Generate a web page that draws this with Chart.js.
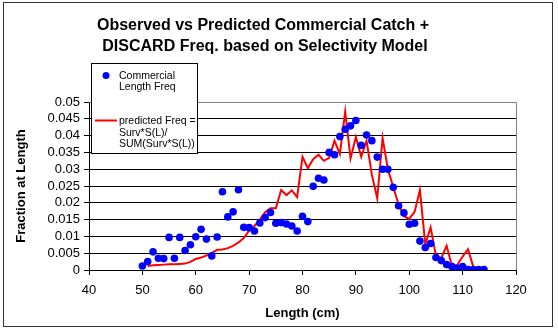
<!DOCTYPE html>
<html>
<head>
<meta charset="utf-8">
<script src="https://cdn.jsdelivr.net/npm/chart.js@4.4.1/dist/chart.umd.min.js"></script>
<style>
  html, body { margin: 0; padding: 0; background: #fff; }
  #wrap { width: 558px; height: 330px; }
</style>
</head>
<body>
<div id="wrap"><canvas id="catchChart" width="558" height="330"></canvas></div>
<script>
// observed commercial length frequency, 50..114 cm
const obsLength = [50, 51, 52, 53, 54, 55, 56, 57, 58, 59, 60, 61, 62, 63, 64, 65, 66, 67, 68, 69,
  70, 71, 72, 73, 74, 75, 76, 77, 78, 79, 80, 81, 82, 83, 84, 85, 86, 87, 88, 89,
  90, 91, 92, 93, 94, 95, 96, 97, 98, 99, 100, 101, 102, 103, 104, 105, 106, 107, 108, 109,
  110, 111, 112, 113, 114];
const obsFreq = [0.0012, 0.0025, 0.0054, 0.0035, 0.0034, 0.0097, 0.0035, 0.0097, 0.0058, 0.0075,
  0.0099, 0.0121, 0.0092, 0.0042, 0.0098, 0.0233, 0.0158, 0.0173, 0.0239, 0.0127,
  0.0126, 0.0116, 0.0140, 0.0156, 0.0171, 0.0139, 0.0141, 0.0137, 0.0131, 0.0116,
  0.0160, 0.0144, 0.0249, 0.0273, 0.0268, 0.0350, 0.0343, 0.0397, 0.0419, 0.0429,
  0.0445, 0.0371, 0.0402, 0.0385, 0.0336, 0.0300, 0.0300, 0.0246, 0.0191, 0.0170,
  0.0136, 0.0139, 0.0086, 0.0067, 0.0079, 0.0037, 0.0028, 0.0016, 0.0010, 0.0005,
  0.0010, 0.0001, 0.0001, 0.0001, 0.0001];

// predicted freq from selectivity model, 51..114 cm
const predLength = [51, 52, 53, 54, 55, 56, 57, 58, 59, 60, 61, 62, 63, 64, 65, 66, 67, 68, 69,
  70, 71, 72, 73, 74, 75, 76, 77, 78, 79, 80, 81, 82, 83, 84, 85, 86, 87, 88, 89,
  90, 91, 92, 93, 94, 95, 96, 97, 98, 99, 100, 101, 102, 103, 104, 105, 106, 107, 108, 109,
  110, 111, 112, 113, 114];
const predFreq = [0.0012, 0.0014, 0.0015, 0.0016, 0.0017, 0.0017, 0.0018, 0.0019, 0.0024,
  0.0033, 0.0037, 0.0043, 0.0050, 0.0060, 0.0061, 0.0065, 0.0072, 0.0082, 0.0095,
  0.0117, 0.0131, 0.0150, 0.0172, 0.0184, 0.0184, 0.0238, 0.0223, 0.0237, 0.0217,
  0.0337, 0.0303, 0.0330, 0.0343, 0.0325, 0.0334, 0.0385, 0.0345, 0.0471, 0.0332,
  0.0396, 0.0337, 0.0385, 0.0283, 0.0213, 0.0393, 0.0300, 0.0247, 0.0195, 0.0160,
  0.0152, 0.0173, 0.0238, 0.0076, 0.0127, 0.0042, 0.0035, 0.0072, 0.0012, 0.0015,
  0.0040, 0.0062, 0.0010, 0.0004, 0.0002];

const xTicks = [40, 50, 60, 70, 80, 90, 100, 110, 120];
const yTicks = [0, 0.005, 0.01, 0.015, 0.02, 0.025, 0.03, 0.035, 0.04, 0.045, 0.05];

const titleLines = ['Observed vs Predicted Commercial Catch +', 'DISCARD Freq. based on Selectivity Model'];
const obsLabel = ['Commercial', 'Length Freq'];
const predLabel = ['predicted Freq =', 'Surv*S(L)/', 'SUM(Surv*S(L))'];

const FONT = 'Arial, "Liberation Sans", sans-serif';

// frame, title, plot border and the boxed legend
const decor = {
  id: 'decor',
  beforeDraw(chart) {
    const ctx = chart.ctx;
    ctx.save();
    ctx.fillStyle = '#fff';
    ctx.fillRect(0, 0, chart.width, chart.height);
    ctx.strokeStyle = '#333';
    ctx.lineWidth = 1;
    ctx.strokeRect(3.5, 2.5, 549, 324);
    ctx.fillStyle = '#000';
    ctx.font = 'bold 16px ' + FONT;
    ctx.textAlign = 'center';
    ctx.textBaseline = 'middle';
    ctx.fillText(titleLines[0], 263, 26);
    ctx.fillText(titleLines[1], 265, 47);
    ctx.restore();
  },
  beforeDatasetsDraw(chart) {
    const {ctx, chartArea: a} = chart;
    ctx.save();
    ctx.strokeStyle = '#808080';
    ctx.lineWidth = 1;
    ctx.beginPath();
    ctx.moveTo(a.left, a.top + 0.5);
    ctx.lineTo(a.right + 0.5, a.top + 0.5);
    ctx.lineTo(a.right + 0.5, a.bottom);
    ctx.stroke();
    ctx.restore();
  },
  afterDraw(chart) {
    const ctx = chart.ctx;
    ctx.save();
    ctx.fillStyle = '#fff';
    ctx.fillRect(91, 63, 107, 91);
    ctx.strokeStyle = '#000';
    ctx.lineWidth = 1;
    ctx.strokeRect(91.5, 63.5, 106, 90);

    ctx.fillStyle = '#0000ff';
    ctx.beginPath();
    ctx.arc(106, 75.5, 3.5, 0, Math.PI * 2);
    ctx.fill();

    ctx.strokeStyle = '#ff0000';
    ctx.lineWidth = 2;
    ctx.beginPath();
    ctx.moveTo(95, 120.5);
    ctx.lineTo(117, 120.5);
    ctx.stroke();

    ctx.fillStyle = '#000';
    ctx.font = '10.5px ' + FONT;
    ctx.textAlign = 'left';
    ctx.textBaseline = 'middle';
    obsLabel.forEach((t, i) => ctx.fillText(t, 119, 76 + i * 11.5));
    predLabel.forEach((t, i) => ctx.fillText(t, 119, 121.5 + i * 11.5));
    ctx.restore();
  }
};

new Chart(document.getElementById('catchChart'), {
  type: 'scatter',
  data: {
    datasets: [
      {
        label: 'Commercial Length Freq',
        data: obsLength.map((l, i) => ({x: l, y: obsFreq[i]})),
        backgroundColor: '#0000ff',
        borderColor: '#0000ff',
        pointRadius: 3.8,
        pointHoverRadius: 3.8,
        borderWidth: 0
      },
      {
        type: 'line',
        label: 'predicted Freq',
        data: predLength.map((l, i) => ({x: l, y: predFreq[i]})),
        borderColor: '#ff0000',
        borderWidth: 2,
        pointRadius: 0,
        fill: false,
        tension: 0
      }
    ]
  },
  options: {
    responsive: false,
    animation: false,
    layout: { padding: { top: 102, right: 42, bottom: 0, left: 0 } },
    plugins: {
      legend: { display: false },
      title: { display: false },
      tooltip: { enabled: false }
    },
    scales: {
      x: {
        type: 'linear',
        min: xTicks[0],
        max: xTicks[xTicks.length - 1],
        afterFit(s) { s.height = 60; },
        afterBuildTicks(s) { s.ticks = xTicks.map(v => ({value: v})); },
        ticks: { autoSkip: false, color: '#000', padding: 8, font: { family: FONT, size: 13 } },
        grid: { drawOnChartArea: false, color: '#000', tickLength: 5 },
        border: { color: '#000' },
        title: {
          display: true,
          text: 'Length (cm)',
          color: '#000',
          font: { family: FONT, size: 13, weight: 'bold' },
          padding: { top: 0, bottom: 9 }
        }
      },
      y: {
        min: yTicks[0],
        max: yTicks[yTicks.length - 1],
        afterFit(s) { s.width = 89; },
        afterBuildTicks(s) { s.ticks = yTicks.map(v => ({value: v})); },
        ticks: {
          autoSkip: false,
          color: '#000',
          padding: 4,
          font: { family: FONT, size: 13 },
          callback: v => String(+v.toFixed(3))
        },
        grid: { color: '#000', tickLength: 5 },
        border: { color: '#000' },
        title: {
          display: true,
          text: 'Fraction at Length',
          color: '#000',
          font: { family: FONT, size: 13, weight: 'bold' },
          padding: { top: 14, bottom: 0 }
        }
      }
    }
  },
  plugins: [decor]
});
</script>
</body>
</html>
